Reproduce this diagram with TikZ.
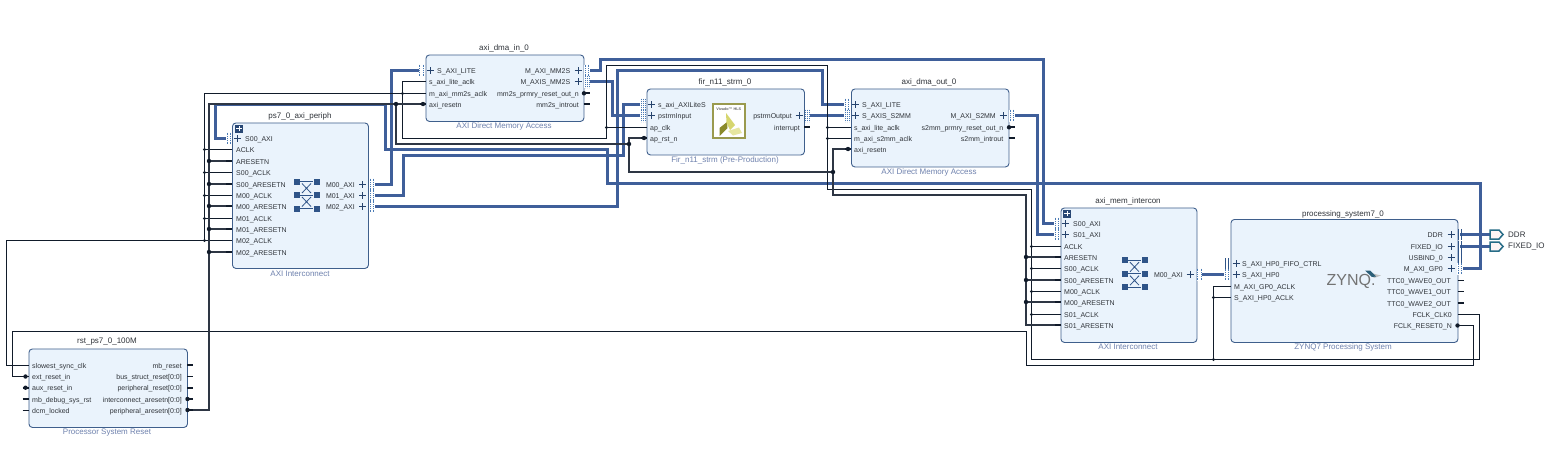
\documentclass[tikz,border=0pt]{standalone}
\usepackage{fontspec}
\setmainfont{Liberation Sans}
\pgfdeclarelayer{wires}
\pgfsetlayers{wires,main}
\definecolor{busblue}{HTML}{3F5F9A}
\definecolor{wirek}{HTML}{111B2A}
\definecolor{blockfill}{HTML}{EAF3FC}
\definecolor{blockedge}{HTML}{3F5F8C}
\definecolor{iconblue}{HTML}{2F5488}
\definecolor{subtxt}{HTML}{6F82AE}
\definecolor{pintxt}{HTML}{30343A}
\definecolor{stripblue}{HTML}{4A7AB4}
\definecolor{logoedge}{HTML}{9A9A4E}
\definecolor{logodark}{HTML}{8A8A2A}
\definecolor{logomid}{HTML}{D6D66E}
\definecolor{logolite}{HTML}{E6E6A0}
\definecolor{zynqteal}{HTML}{2C5F78}
\tikzset{
  x=1pt,y=-1pt,
  blockbox/.style={draw=blockedge,fill=blockfill,line width=.9pt,rounded corners=3.5pt,inner sep=0pt,anchor=north west},
  iname/.style={font=\fontsize{8}{9}\selectfont,text=pintxt,inner sep=0pt},
  isub/.style={font=\fontsize{8}{9}\selectfont,text=subtxt,inner sep=0pt},
  plab/.style={font=\fontsize{7}{8}\selectfont,text=pintxt,inner sep=0pt,text height=5.5pt,text depth=0.1pt},
  pstub/.style={line width=1.7pt,draw=wirek},
  wclk/.style={line width=1.2pt,draw=wirek},
  wrst/.style={line width=2.2pt,draw=wirek!88!white},
  wbus/.style={line width=3.9pt,draw=busblue},
  dotk/.style={fill=wirek},
  plussign/.style={line width=.9pt,draw=iconblue!80!black},
  extport/.style={draw=blockedge!60!teal,fill=black!14!red!4!white,line width=1.5pt},
  portlab/.style={font=\fontsize{8}{9}\selectfont,text=pintxt,inner sep=0pt,anchor=west}
}
% strips
\newcommand\stripd[2]{%
  \fill[white] (#1-2.6,#2-6) rectangle (#1+2.6,#2+6);
  \draw[stripblue,line width=.8pt,dash pattern=on .9pt off .9pt] (#1-1.7,#2-6) -- (#1-1.7,#2+6);
  \draw[stripblue,line width=.8pt,dash pattern=on .9pt off .9pt] (#1+1.7,#2-6) -- (#1+1.7,#2+6);}
\newcommand\stripa[2]{%
  \fill[white] (#1-2.6,#2-6) rectangle (#1+2.6,#2+6);
  \draw[stripblue,line width=.8pt,dash pattern=on 1.3pt off .7pt] (#1-2,#2-6) -- (#1-2,#2+6);
  \draw[stripblue,line width=.8pt,dash pattern=on 1.3pt off .7pt] (#1,#2-6) -- (#1,#2+6);
  \draw[stripblue,line width=.8pt,dash pattern=on 1.3pt off .7pt] (#1+2,#2-6) -- (#1+2,#2+6);}
\newcommand\strips[2]{%
  \draw[iconblue,line width=1pt] (#1-1.7,#2-5.5) -- (#1-1.7,#2+5.5);
  \draw[iconblue,line width=1pt] (#1+1.7,#2-5.5) -- (#1+1.7,#2+5.5);}
\newcommand\plusat[2]{\draw[plussign] (#1-3.5,#2) -- (#1+3.5,#2) (#1,#2-3.5) -- (#1,#2+3.5);}
% scalar pins: id, edge x, y, label x, text
\newcommand\lpin[5]{%
  \coordinate (#1) at (#2-6,#3);
  \draw[pstub] (#2-6,#3) -- (#2,#3);
  \node[plab,anchor=west] (#1-l) at (#4,#3+.3) {#5};}
\newcommand\rpin[5]{%
  \coordinate (#1) at (#2+6,#3);
  \draw[pstub] (#2,#3) -- (#2+6,#3);
  \node[plab,anchor=east] (#1-l) at (#4,#3+.3) {#5};}
% active-low marker
\newcommand\lowdot[2]{\fill[dotk] (#1,#2) circle (2.2pt);}
% bus pins: id, strip macro, strip x, y, plus x, label x, text
\newcommand\lbus[7]{%
  \coordinate (#1) at (#3,#4);
  #2{#3}{#4}\plusat{#5}{#4}
  \node[plab,anchor=west] (#1-l) at (#6,#4) {#7};}
\newcommand\rbus[7]{%
  \coordinate (#1) at (#3,#4);
  #2{#3}{#4}\plusat{#5}{#4}
  \node[plab,anchor=east] (#1-l) at (#6,#4) {#7};}
% interconnect icon
\newcommand\xicon[2]{%
  \foreach \dy in {-13.5,0,13.5}{
    \fill[iconblue] (#1-13,#2+\dy-3) rectangle (#1-7,#2+\dy+3);
    \fill[iconblue] (#1+7,#2+\dy-3) rectangle (#1+13,#2+\dy+3);
    \draw[iconblue,line width=.8pt] (#1-6.5,#2+\dy) -- (#1+6.5,#2+\dy);}
  \draw[iconblue,line width=.8pt] (#1-4.5,#2-11.5) -- (#1+4.5,#2-2) (#1+4.5,#2-11.5) -- (#1-4.5,#2-2);
  \draw[iconblue,line width=.8pt] (#1-4.5,#2+2) -- (#1+4.5,#2+11.5) (#1+4.5,#2+2) -- (#1-4.5,#2+11.5);}
\newcommand\expicon[2]{%
  \fill[iconblue!85!black] (#1-4,#2-4) rectangle (#1+4,#2+4);
  \draw[white,line width=.9pt] (#1-2.6,#2) -- (#1+2.6,#2) (#1,#2-2.6) -- (#1,#2+2.6);}
\begin{document}
\begin{tikzpicture}
\useasboundingbox (0,0) rectangle (1554,448);
\begin{pgfonlayer}{wires}
\fill[white] (0,0) rectangle (1554,448);
\end{pgfonlayer}
% ---------- blocks
\node[blockbox,minimum width=136pt,minimum height=145.5pt] (ps7) at (232,122.5) {};
\node[iname] (ps7-name) at (300,116.5) {ps7\_0\_axi\_periph};
\node[isub] (ps7-sub) at (300,274) {AXI Interconnect};
\node[blockbox,minimum width=158pt,minimum height=66.5pt] (dmain) at (425.5,54.5) {};
\node[iname] (dmain-name) at (504,48.5) {axi\_dma\_in\_0};
\node[isub] (dmain-sub) at (504,126) {AXI Direct Memory Access};
\node[blockbox,minimum width=157.5pt,minimum height=66pt] (fir) at (646.5,88.5) {};
\node[iname] (fir-name) at (725,82.5) {fir\_n11\_strm\_0};
\node[isub] (fir-sub) at (725,160) {Fir\_n11\_strm (Pre-Production)};
\node[blockbox,minimum width=157.5pt,minimum height=78pt] (dout) at (851,88.5) {};
\node[iname] (dout-name) at (929,82.5) {axi\_dma\_out\_0};
\node[isub] (dout-sub) at (929,172) {AXI Direct Memory Access};
\node[blockbox,minimum width=136pt,minimum height=134.5pt] (mem) at (1060.5,207.5) {};
\node[iname] (mem-name) at (1128,201.5) {axi\_mem\_intercon};
\node[isub] (mem-sub) at (1128,347) {AXI Interconnect};
\node[blockbox,minimum width=227pt,minimum height=123pt] (ps) at (1230.5,219) {};
\node[iname] (ps-name) at (1343,214) {processing\_system7\_0};
\node[isub] (ps-sub) at (1343,347.5) {ZYNQ7 Processing System};
\node[blockbox,minimum width=158.5pt,minimum height=78.5pt] (rst) at (28.5,348.5) {};
\node[iname] (rst-name) at (107,342) {rst\_ps7\_0\_100M};
\node[isub] (rst-sub) at (107,432.5) {Processor System Reset};
% ---------- ps7_0_axi_periph pins
\expicon{239}{128.5}
\lbus{pA-S00}{\stripd}{229}{138.5}{237}{245}{S00\_AXI}
\lpin{pA-ACLK}{232}{149.5}{236}{ACLK}
\lpin{pA-ARST}{232}{161}{236}{ARESETN}
\lpin{pA-S0C}{232}{172.5}{236}{S00\_ACLK}
\lpin{pA-S0R}{232}{184}{236}{S00\_ARESETN}
\lpin{pA-M0C}{232}{195.5}{236}{M00\_ACLK}
\lpin{pA-M0R}{232}{206}{236}{M00\_ARESETN}
\lpin{pA-M1C}{232}{218.5}{236}{M01\_ACLK}
\lpin{pA-M1R}{232}{229}{236}{M01\_ARESETN}
\lpin{pA-M2C}{232}{240.5}{236}{M02\_ACLK}
\lpin{pA-M2R}{232}{252}{236}{M02\_ARESETN}
\rbus{pA-M00}{\stripd}{372}{184.5}{362.5}{355}{M00\_AXI}
\rbus{pA-M01}{\stripd}{372}{195.5}{362.5}{355}{M01\_AXI}
\rbus{pA-M02}{\stripd}{372}{206.5}{362.5}{355}{M02\_AXI}
\xicon{306.5}{195}
% ---------- axi_dma_in_0 pins
\lbus{dI-LITE}{\stripd}{421.5}{70.5}{430.5}{437}{S\_AXI\_LITE}
\lpin{dI-LC}{425.5}{81.5}{429}{s\_axi\_lite\_aclk}
\lpin{dI-MC}{425.5}{93.5}{429}{m\_axi\_mm2s\_aclk}
\lpin{dI-RN}{425.5}{104}{429}{axi\_resetn}
\lowdot{423}{104}
\rbus{dI-MM}{\stripd}{587}{70.5}{578}{570.5}{M\_AXI\_MM2S}
\rbus{dI-MS}{\stripa}{587}{81.5}{578}{570.5}{M\_AXIS\_MM2S}
\rpin{dI-PR}{583.5}{93.3}{579}{mm2s\_prmry\_reset\_out\_n}
\lowdot{584}{93.3}
\rpin{dI-IT}{583.5}{104.3}{579}{mm2s\_introut}
% ---------- fir pins
\lbus{fR-LT}{\stripa}{643}{104.5}{651}{658}{s\_axi\_AXILiteS}
\lbus{fR-IN}{\stripa}{643}{115.5}{651}{658}{pstrmInput}
\lpin{fR-CK}{646.5}{127.5}{650}{ap\_clk}
\lpin{fR-RN}{646.5}{138}{650}{ap\_rst\_n}
\lowdot{644}{138}
\rbus{fR-OUT}{\stripa}{807.5}{115.5}{799}{792}{pstrmOutput}
\rpin{fR-IT}{804}{127.3}{800}{interrupt}
% logo
\draw[logoedge,line width=2pt,fill=white] (712.5,104) rectangle (745,138);
\node[font=\fontsize{3.8}{4}\selectfont\bfseries,text=black!60,inner sep=0pt] (fR-logotxt) at (728.7,109) {Vivado™ HLS};
\fill[logodark] (719.5,136) -- (719.5,128) -- (727,122) -- (727.5,128) -- cycle;
\fill[logomid] (726,113) -- (735,125) -- (730,130) -- (726.5,123) -- cycle;
\fill[logolite] (728,131) -- (739,127.5) -- (742,133) -- (733,135.5) -- cycle;
% ---------- axi_dma_out_0 pins
\lbus{dO-LITE}{\stripd}{847}{104.5}{855.5}{862}{S\_AXI\_LITE}
\lbus{dO-S2}{\stripa}{847}{115.5}{855.5}{862}{S\_AXIS\_S2MM}
\lpin{dO-LC}{851}{127.5}{854}{s\_axi\_lite\_aclk}
\lpin{dO-MC}{851}{138.5}{854}{m\_axi\_s2mm\_aclk}
\lpin{dO-RN}{851}{149}{854}{axi\_resetn}
\lowdot{848}{149}
\rbus{dO-MM}{\stripd}{1012}{115.5}{1003}{996}{M\_AXI\_S2MM}
\rpin{dO-PR}{1008.5}{127.3}{1003.5}{s2mm\_prmry\_reset\_out\_n}
\lowdot{1009}{127.3}
\rpin{dO-IT}{1008.5}{138.3}{1003.5}{s2mm\_introut}
% ---------- axi_mem_intercon pins
\expicon{1067}{213.7}
\lbus{mI-S0}{\stripd}{1057}{223.5}{1065.7}{1073}{S00\_AXI}
\lbus{mI-S1}{\stripd}{1057}{234.5}{1065.7}{1073}{S01\_AXI}
\lpin{mI-AC}{1060.5}{246.5}{1064}{ACLK}
\lpin{mI-AR}{1060.5}{257}{1064}{ARESETN}
\lpin{mI-S0C}{1060.5}{268.5}{1064}{S00\_ACLK}
\lpin{mI-S0R}{1060.5}{280}{1064}{S00\_ARESETN}
\lpin{mI-M0C}{1060.5}{291.5}{1064}{M00\_ACLK}
\lpin{mI-M0R}{1060.5}{302}{1064}{M00\_ARESETN}
\lpin{mI-S1C}{1060.5}{314.5}{1064}{S01\_ACLK}
\lpin{mI-S1R}{1060.5}{325}{1064}{S01\_ARESETN}
\rbus{mI-M0}{\stripd}{1199.5}{274.5}{1190}{1183}{M00\_AXI}
\xicon{1134.5}{273.7}
% ---------- processing_system7_0 pins
\lbus{pS-FF}{\strips}{1227}{263.5}{1236}{1242}{S\_AXI\_HP0\_FIFO\_CTRL}
\lbus{pS-HP}{\stripd}{1227}{274.5}{1236}{1242}{S\_AXI\_HP0}
\lpin{pS-GC}{1230.5}{286.5}{1234}{M\_AXI\_GP0\_ACLK}
\lpin{pS-HC}{1230.5}{297.5}{1234}{S\_AXI\_HP0\_ACLK}
\rbus{pS-DDR}{\strips}{1460}{234.5}{1451}{1443}{DDR}
\rbus{pS-FX}{\strips}{1460}{246.5}{1451}{1443}{FIXED\_IO}
\rbus{pS-US}{\strips}{1460}{257.5}{1451}{1443}{USBIND\_0}
\rbus{pS-GP}{\stripd}{1460}{268.5}{1451}{1443}{M\_AXI\_GP0}
\rpin{pS-W0}{1457.5}{280.5}{1451}{TTC0\_WAVE0\_OUT}
\rpin{pS-W1}{1457.5}{291.5}{1451}{TTC0\_WAVE1\_OUT}
\rpin{pS-W2}{1457.5}{303}{1451}{TTC0\_WAVE2\_OUT}
\rpin{pS-CK}{1457.5}{314.5}{1452}{FCLK\_CLK0}
\rpin{pS-RN}{1457.5}{325.5}{1452}{FCLK\_RESET0\_N}
\lowdot{1457.5}{325.5}
\node[font=\fontsize{16}{18}\selectfont,text=black!55,inner sep=0pt,anchor=west] (pS-zynq) at (1326.5,281) {ZYNQ.};
\fill[black!25] (1369,272.5) -- (1381,275.5) -- (1374,278) -- cycle;
\fill[zynqteal] (1365,270.5) -- (1370,270.5) -- (1376,276.5) -- (1372,277) -- cycle;
% ---------- rst_ps7_0_100M pins
\lpin{rS-SL}{28.5}{365.5}{32}{slowest\_sync\_clk}
\lpin{rS-EX}{28.5}{376.5}{32}{ext\_reset\_in}
\lowdot{25.5}{376.5}
\lpin{rS-AX}{28.5}{387.7}{32}{aux\_reset\_in}
\lowdot{25.5}{387.7}
\lpin{rS-DB}{28.5}{399.3}{32}{mb\_debug\_sys\_rst}
\lpin{rS-DC}{28.5}{410.5}{32}{dcm\_locked}
\rpin{rS-MB}{187}{365}{182}{mb\_reset}
\rpin{rS-BS}{187}{376.5}{182}{bus\_struct\_reset[0:0]}
\rpin{rS-PE}{187}{387.7}{182}{peripheral\_reset[0:0]}
\rpin{rS-IC}{187}{399}{182}{interconnect\_aresetn[0:0]}
\lowdot{187.5}{399}
\rpin{rS-PA}{187}{410}{182}{peripheral\_aresetn[0:0]}
\lowdot{187.5}{410}
% ---------- external ports
\draw[extport] (1490,230) -- (1499,230) -- (1503,234.5) -- (1499,239) -- (1490,239) -- cycle;
\coordinate (DDRport) at (1490,234.5);
\node[portlab] (DDRport-l) at (1508,234.5) {DDR};
\draw[extport] (1490,242) -- (1499,242) -- (1503,246.5) -- (1499,251) -- (1490,251) -- cycle;
\coordinate (FIXport) at (1490,246.5);
\node[portlab] (FIXport-l) at (1508,246.5) {FIXED\_IO};
% ---------- wires
\begin{pgfonlayer}{wires}
% blue busses
\draw[wbus] (pS-GP) -- (1480.5,268.5) -- (1480.5,183.5) -- (607.5,183.5) -- (607.5,149.5) -- (385.5,149.5) -- (385.5,104.5) -- (215.5,104.5) -- (215.5,138.5) -- (pA-S00);
\draw[wbus] (pA-M00) -- (391.5,184.5) -- (391.5,70.5) -- (dI-LITE);
\draw[wbus] (pA-M01) -- (403.5,195.5) -- (403.5,155.5) -- (623.5,155.5) -- (623.5,104.5) -- (fR-LT);
\draw[wbus] (pA-M02) -- (617.5,206.5) -- (617.5,70.5) -- (822.5,70.5) -- (822.5,104.5) -- (dO-LITE);
\draw[wbus] (dI-MM) -- (600.5,70.5) -- (600.5,59.5) -- (1043.5,59.5) -- (1043.5,223.5) -- (mI-S0);
\draw[wbus] (dI-MS) -- (612.5,81.5) -- (612.5,115.5) -- (fR-IN);
\draw[wbus] (fR-OUT) -- (dO-S2);
\draw[wbus] (dO-MM) -- (1037.5,115.5) -- (1037.5,234.5) -- (mI-S1);
\draw[wbus] (mI-M0) -- (pS-HP);
\draw[wbus] (pS-DDR) -- (DDRport);
\draw[wbus] (pS-FX) -- (FIXport);
% clock net
\draw[wclk] (rS-SL) -- (6.5,365.5) -- (6.5,240.5) -- (pA-M2C);
\draw[wclk] (dI-MC) -- (204.5,93.5) -- (204.5,240.5);
\foreach \p in {pA-ACLK,pA-S0C,pA-M0C,pA-M1C}{\draw[wclk] (204.5,0 |- \p) -- (\p);\fill[dotk] (204.5,0 |- \p) circle (1.7pt);}
\fill[dotk] (204.5,240.5) circle (1.7pt);
\draw[wclk] (dI-LC) -- (402.5,81.5) -- (402.5,138.5) -- (606.5,138.5) -- (606.5,65.5) -- (827.5,65.5) -- (827.5,189.5) -- (1031.5,189.5) -- (1031.5,359.5) -- (1479.5,359.5) -- (1479.5,314.5) -- (pS-CK);
\fill[dotk] (402.5,93.5) circle (1.7pt);
\draw[wclk] (606.5,127.5) -- (fR-CK);
\fill[dotk] (606.5,127.5) circle (1.7pt);
\foreach \p in {dO-LC,dO-MC}{\draw[wclk] (827.5,0 |- \p) -- (\p);\fill[dotk] (827.5,0 |- \p) circle (1.7pt);}
\foreach \p in {mI-AC,mI-S0C,mI-M0C,mI-S1C}{\draw[wclk] (1031.5,0 |- \p) -- (\p);\fill[dotk] (1031.5,0 |- \p) circle (1.7pt);}
\draw[wclk] (1213.5,359.5) -- (1213.5,286.5) -- (pS-GC);
\draw[wclk] (1213.5,297.5) -- (pS-HC);
\fill[dotk] (1213.5,359.5) circle (1.7pt);
\fill[dotk] (1213.5,297.5) circle (1.7pt);
% FCLK reset to ext_reset_in
\draw[wclk] (pS-RN) -- (1473.5,325.5) -- (1473.5,365.5) -- (1026.5,365.5) -- (1026.5,331.5) -- (12.5,331.5) -- (12.5,376.5) -- (rS-EX);
% thick reset net
\draw[wrst] (rS-PA) -- (209,410) -- (209,104) -- (dI-RN);
\foreach \p in {pA-ARST,pA-S0R,pA-M0R,pA-M1R,pA-M2R}{\draw[wrst] (209,0 |- \p) -- (\p);\fill[dotk] (209,0 |- \p) circle (2.2pt);}
\draw[wrst] (396,104) -- (396,144) -- (629,144);
\fill[dotk] (396,104) circle (2.2pt);
\draw[wrst] (fR-RN) -- (629,138) -- (629,172) -- (833,172);
\fill[dotk] (629,144) circle (2.2pt);
\draw[wrst] (dO-RN) -- (833,149) -- (833,195) -- (1026,195) -- (1026,325) -- (mI-S1R);
\fill[dotk] (833,172) circle (2.2pt);
\foreach \p in {mI-AR,mI-S0R,mI-M0R}{\draw[wrst] (1026,0 |- \p) -- (\p);\fill[dotk] (1026,0 |- \p) circle (2.2pt);}
\end{pgfonlayer}
\end{tikzpicture}
\end{document}
